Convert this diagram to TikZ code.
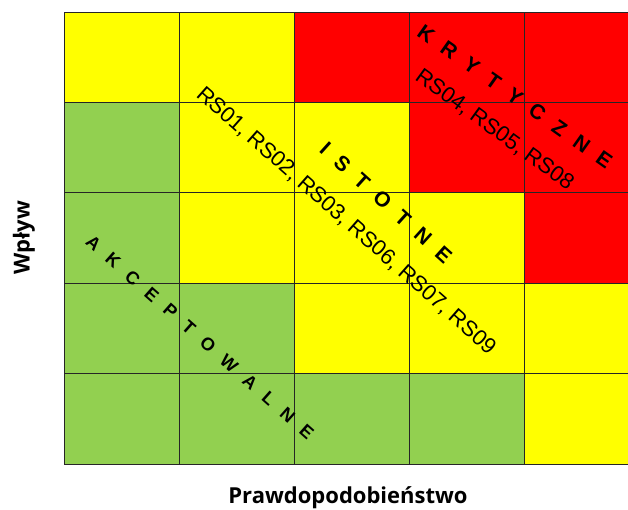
\documentclass[tikz,border=0pt]{standalone}
\usepackage{fontspec}
\setmainfont{Liberation Sans}
\newfontfamily\axisfont{Open Sans}
\usetikzlibrary{positioning}
\definecolor{akc}{HTML}{92D050}
\definecolor{ist}{HTML}{FFFF00}
\definecolor{kry}{HTML}{FF0000}

\begin{document}
\begin{tikzpicture}[
  x=1pt,y=-1pt,
  cell/.style={draw=black!85,line width=1pt},
  zone/.style={inner sep=0pt,font=\fontsize{21}{21}\selectfont\bfseries,
    execute at begin node={\spaceskip=13pt\relax}},
  zonelight/.style={zone,font=\fontsize{18}{18}\selectfont\bfseries},
  risks/.style={inner sep=0pt,font=\fontsize{22}{22}\selectfont},
  axis/.style={inner sep=0pt,font=\axisfont\bfseries\fontsize{22}{22}\selectfont}]
  \useasboundingbox (0,0) rectangle (628,509);
  \clip (0,0) rectangle (628,509);
  % risk matrix, rows from the top
  \foreach \row/\colors in {0/{ist,ist,kry,kry,kry},1/{akc,ist,ist,kry,kry},
                            2/{akc,ist,ist,ist,kry},3/{akc,akc,ist,ist,ist},
                            4/{akc,akc,akc,akc,ist}}
    \foreach \c [count=\col from 0] in \colors
      \draw[cell,fill=\c] (64+115*\col,12+90.4*\row) rectangle +(115,90.4);
  % zones
  \node[zone,rotate=-35.2]      (krytyczne) at (515,96.5) {K R Y T Y C Z N E};
  \node[zone,rotate=-42]        (istotne)   at (386,203)  {I S T O T N E};
  \node[zonelight,rotate=-41.5] (akcept)    at (200,337.5){A K C E P T O W A L N E};
  % risks
  \node[risks,rotate=-36]   (rs hi)  at (494.5,130) {RS04, RS05, RS08};
  \node[risks,rotate=-41.5] (rs mid) at (346,221)   {RS01, RS02, RS03, RS06, RS07, RS09};
  % axes
  \node[axis,rotate=90] (wplyw) at (24,237.5) {Wpływ};
  \node[axis]           (prawd) at (348,498)  {Prawdopodobieństwo};
\end{tikzpicture}
\end{document}
